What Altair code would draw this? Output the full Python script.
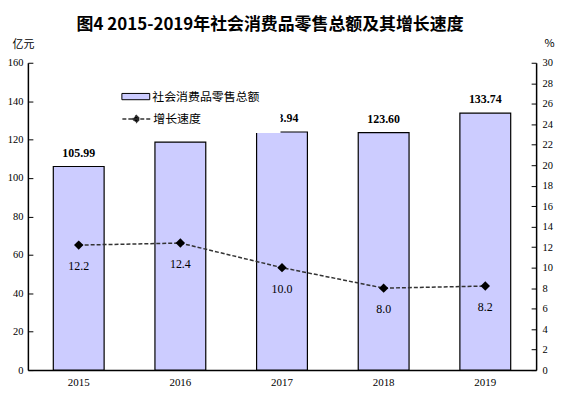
import altair as alt
import pandas as pd

years = ["2015", "2016", "2017", "2018", "2019"]
sales = [105.99, 118.73, 123.94, 123.60, 133.74]
growth = [12.2, 12.4, 10.0, 8.0, 8.2]
sales_ticks = [0, 20, 40, 60, 80, 100, 120, 140, 160]
growth_ticks = [0, 2, 4, 6, 8, 10, 12, 14, 16, 18, 20, 22, 24, 26, 28, 30]
bar_name = "社会消费品零售总额"
line_name = "增长速度"
title_text = "图4 2015-2019年社会消费品零售总额及其增长速度"

df = pd.DataFrame({"year": years, "sales": sales, "growth": growth,
                   "s1": bar_name, "s2": line_name})

CJK = "Noto Sans CJK SC"
SERIF = "Liberation Serif"

ys = alt.Scale(domain=[0, 160], nice=False)
yg = alt.Scale(domain=[0, 30], nice=False)

x_axis = alt.Axis(orient="bottom", ticks=False, labelAngle=0, labelPadding=7,
                  labelBaseline="top", domainWidth=1.5, domainColor="black", title=None)
x_main = alt.X("year:N", title=None,
               scale=alt.Scale(paddingInner=0.5, paddingOuter=0.25), axis=x_axis)

axisA = alt.Axis(orient="left", offset=-5, domain=False, ticks=True, tickSize=5,
                 values=sales_ticks, labelPadding=5, labelFontSize=10.5,
                 title="亿元", titleAngle=0,
                 titleX=-10, titleY=-18, titleAlign="center", titleBaseline="middle")
axisB = alt.Axis(orient="left", offset=0, domain=True, ticks=False, labels=False,
                 title=None, domainWidth=1.5)
axisC = alt.Axis(orient="right", offset=-5, domain=False, ticks=True, tickSize=5,
                 values=growth_ticks, labelPadding=6, labelFontSize=10.5,
                 title="%", titleAngle=0,
                 titleX=18, titleY=-19, titleAlign="center", titleBaseline="middle")
axisD = alt.Axis(orient="right", offset=0, domain=True, ticks=False, labels=False,
                 title=None, domainWidth=1.5)

legA = alt.Legend(orient="none", legendX=94, legendY=19.5, title=None,
                  fillColor="white", padding=7,
                  symbolType="M-2,-0.45H2V0.45H-2Z", symbolSize=196,
                  symbolStrokeColor="black", symbolStrokeWidth=1,
                  labelOffset=9, labelFont=CJK, labelFontSize=12, labelColor="black")
legB = alt.Legend(orient="none", legendX=94, legendY=41.5,
                  title="·", titleOrient="right", titlePadding=69, titleColor="white",
                  titleFontSize=11,
                  fillColor="white", padding=7,
                  symbolType="M-2,0H2M0,-0.5L0.5,0L0,0.5L-0.5,0Z", symbolSize=196,
                  symbolStrokeColor="#333333", symbolFillColor="black",
                  symbolStrokeWidth=1.5,
                  labelOffset=9, labelFont=CJK, labelFontSize=12, labelColor="black")

base = alt.Chart(df)

bars = base.mark_bar(stroke="black", strokeWidth=1.2).encode(
    x=x_main,
    y=alt.Y("sales:Q", scale=ys, axis=axisA),
    fill=alt.Fill("s1:N", scale=alt.Scale(domain=[bar_name], range=["#ccccff"]), legend=legA),
)

bar_text = base.mark_text(dy=-10, baseline="alphabetic", font=SERIF, fontSize=12,
                          fontWeight="bold", color="black").encode(
    x=x_main,
    y=alt.Y("sales:Q", scale=ys, axis=axisB),
    text=alt.Text("sales:Q", format=".2f"),
)

line = base.mark_line(color="#333333", strokeWidth=1.5).encode(
    x=x_main,
    y=alt.Y("growth:Q", scale=yg, axis=axisC),
    strokeDash=alt.StrokeDash("s2:N", scale=alt.Scale(domain=[line_name], range=[[4, 2]]),
                              legend=legB),
)

points = base.mark_point(shape="diamond", filled=True, size=90, color="black", opacity=1).encode(
    x=x_main,
    y=alt.Y("growth:Q", scale=yg, axis=axisD),
)

g_text = base.mark_text(dy=21, baseline="middle", font=SERIF, fontSize=12, color="black").encode(
    x=x_main,
    y=alt.Y("growth:Q", scale=yg, axis=None),
    text=alt.Text("growth:Q", format=".1f"),
)

chart = alt.layer(bars, bar_text, line, points, g_text).resolve_scale(
    y="independent"
).properties(
    width=511, height=309,
    padding={"left": 20, "top": 54, "right": 20, "bottom": 24},
    autosize=alt.AutoSizeParams(type="none"),
    title=alt.TitleParams(text=title_text, font=CJK, fontSize=17, fontWeight="bold",
                          anchor="middle", frame="group", offset=4, dx=-12, color="black"),
).configure_view(stroke=None).configure_axis(
    labelFont=SERIF, labelFontSize=11, labelColor="black", domainColor="black",
    tickColor="black", grid=False, titleFont=CJK, titleFontSize=11,
    titleFontWeight="normal", titleColor="black"
)

chart.save("out.html", embed_options={"renderer": "svg", "actions": False})
